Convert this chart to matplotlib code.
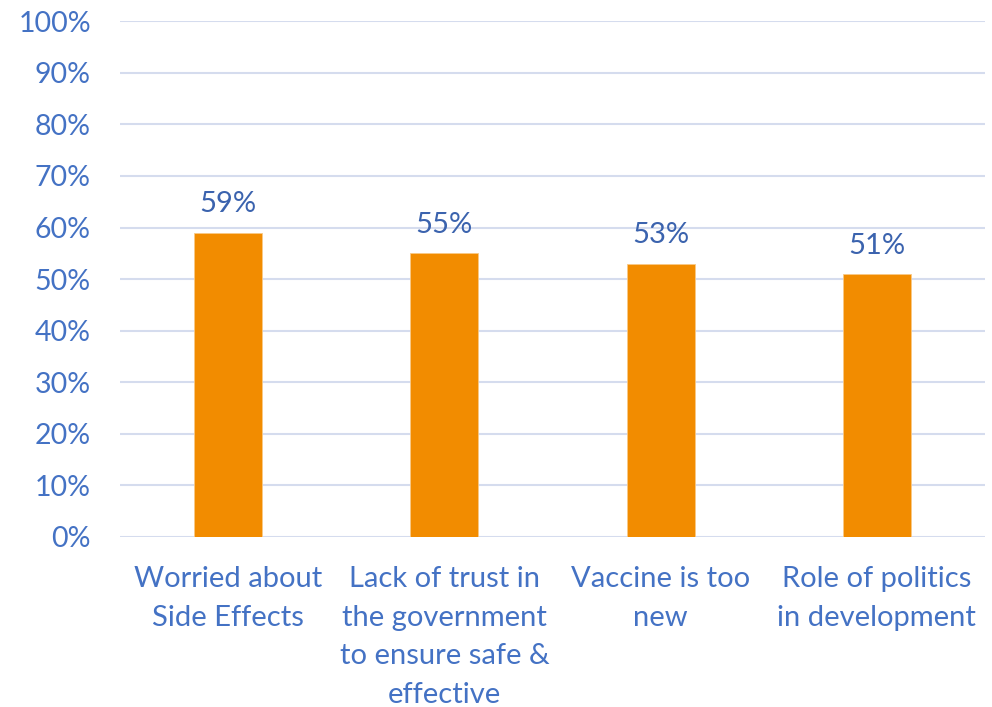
import matplotlib.pyplot as plt
from matplotlib.ticker import PercentFormatter

plt.rcParams["font.family"] = ["Lato", "DejaVu Sans"]

# reasons for vaccine hesitancy
categories = [
    "Worried about\nSide Effects",
    "Lack of trust in\nthe government\nto ensure safe &\neffective",
    "Vaccine is too\nnew",
    "Role of politics\nin development",
]
shares = [59, 55, 53, 51]

blue = "#4472C4"
orange = "#F28C00"

fig = plt.figure(figsize=(9.92, 7.07), dpi=100)
ax = fig.add_axes([0.121, 0.2405, 0.872, 0.7295])

x = range(len(categories))
bars = ax.bar(x, shares, width=0.315, color=orange, edgecolor="#F8C987", linewidth=0.6, zorder=3)

for rect, v in zip(bars, shares):
    ax.annotate(f"{v}%", (rect.get_x() + rect.get_width() / 2, v),
                xytext=(0, 11), textcoords="offset points",
                ha="center", va="bottom", fontsize=21, color="#3B63AE")

ax.set_xlim(-0.5, len(categories) - 0.5)
ax.set_ylim(0, 100)
ax.set_yticks(range(0, 101, 10))
ax.yaxis.set_major_formatter(PercentFormatter(decimals=0))
ax.set_xticks(list(x))
ax.set_xticklabels(categories, fontsize=21, color=blue, linespacing=1.6, va="top")

ax.grid(axis="y", color="#D5DCEE", linewidth=1.5, zorder=0)
ax.tick_params(axis="y", length=0, labelsize=20.5, labelcolor=blue, pad=21)
ax.tick_params(axis="x", length=0, pad=21)
for s in ax.spines.values():
    s.set_visible(False)

fig.savefig("out.png", dpi=100)
